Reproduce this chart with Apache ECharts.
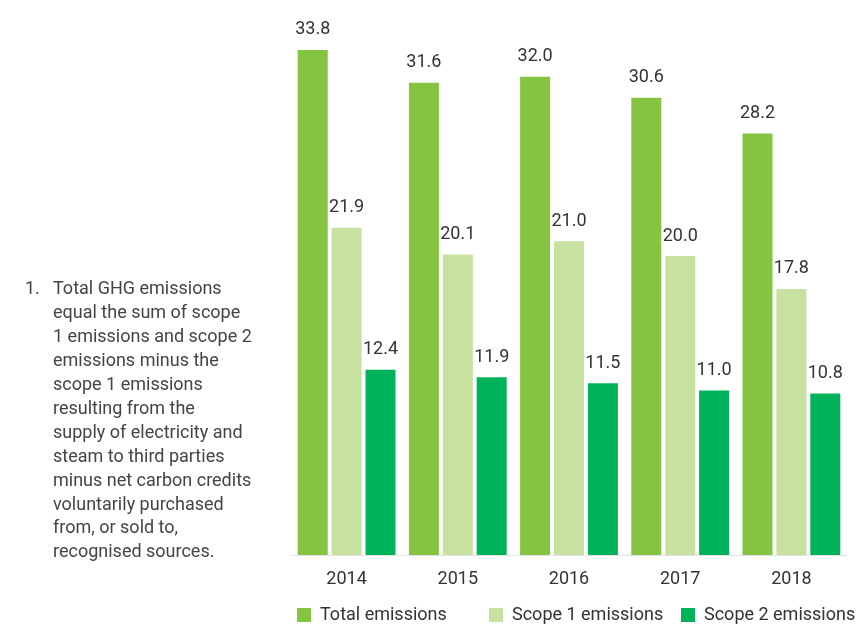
<!DOCTYPE html>
<html>
<head>
<meta charset="utf-8">
<script src="https://cdn.jsdelivr.net/npm/echarts@6/dist/echarts.min.js"></script>
<style>
  html, body { margin: 0; padding: 0; background: #fff; }
  #chart { width: 856px; height: 624px; }
</style>
</head>
<body>
<div id="chart"></div>
<script>
// GHG emissions by year
const years = ['2014', '2015', '2016', '2017', '2018'];
const totalEmissions = [33.8, 31.6, 32.0, 30.6, 28.2];
const scope1Emissions = [21.9, 20.1, 21.0, 20.0, 17.8];
const scope2Emissions = [12.4, 11.9, 11.5, 11.0, 10.8];
const seriesNames = ['Total emissions', 'Scope 1 emissions', 'Scope 2 emissions'];
const footnoteLines = [
  'Total GHG emissions',
  'equal the sum of scope',
  '1 emissions and scope 2',
  'emissions minus the',
  'scope 1 emissions',
  'resulting from the',
  'supply of electricity and',
  'steam to third parties',
  'minus net carbon credits',
  'voluntarily purchased',
  'from, or sold to,',
  'recognised sources.'
];

const FONT = 'Roboto';
const TEXT = '#333333';
const colors = ['#84c441', '#c7e1a0', '#00b35a'];

const chart = echarts.init(document.getElementById('chart'), null, { renderer: 'canvas' });

function barSeries(name, data, color) {
  return {
    name: name,
    type: 'bar',
    data: data,
    barWidth: 30,
    barGap: '13%',
    itemStyle: { color: color },
    label: {
      show: true,
      position: 'top',
      distance: 11,
      formatter: p => p.value.toFixed(1),
      color: TEXT,
      fontFamily: FONT,
      fontSize: 18
    }
  };
}

const legendLefts = [297, 489, 681];

chart.setOption({
  backgroundColor: '#ffffff',
  animation: false,
  grid: { left: 291, right: 9, top: 17, bottom: 69 },
  xAxis: {
    type: 'category',
    data: years,
    axisLine: { lineStyle: { color: '#e3e3e3', width: 1 } },
    axisTick: { show: false },
    axisLabel: { color: TEXT, fontFamily: FONT, fontSize: 18, margin: 15 }
  },
  yAxis: {
    type: 'value',
    min: 0,
    max: 36,
    show: false,
    splitLine: { show: false }
  },
  legend: seriesNames.map((n, i) => ({
    data: [n],
    left: legendLefts[i],
    top: 606,
    padding: 0,
    icon: 'rect',
    itemWidth: 14,
    itemHeight: 14,
    itemGap: 10,
    textStyle: { color: TEXT, fontFamily: FONT, fontSize: 18, padding: [0, 0, 0, 4] }
  })),
  graphic: [
    {
      type: 'text',
      left: 25,
      top: 278,
      style: { text: '1.', fill: '#444', font: '18px ' + FONT, lineHeight: 23.9 }
    },
    {
      type: 'text',
      left: 53,
      top: 278,
      style: {
        text: footnoteLines.join('\n'),
        fill: '#444',
        font: '18px ' + FONT,
        lineHeight: 23.9
      }
    }
  ],
  series: [
    barSeries(seriesNames[0], totalEmissions, colors[0]),
    barSeries(seriesNames[1], scope1Emissions, colors[1]),
    barSeries(seriesNames[2], scope2Emissions, colors[2])
  ]
});
</script>
</body>
</html>
